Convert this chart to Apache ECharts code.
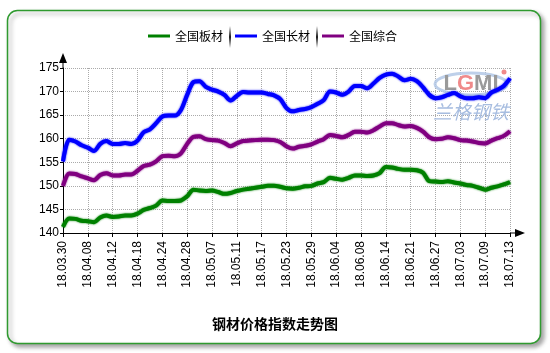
<!DOCTYPE html>
<html>
<head>
<meta charset="utf-8">
<script src="https://cdn.jsdelivr.net/npm/echarts@6/dist/echarts.min.js"></script>
<style>
html,body{margin:0;padding:0;background:#fff;}
#c{width:550px;height:353px;}
</style>
</head>
<body>
<div id="c"></div>
<script>
var categories = ['18.03.30','18.04.02','18.04.03','18.04.04','18.04.08','18.04.09','18.04.10','18.04.11','18.04.12','18.04.13','18.04.16','18.04.17','18.04.18','18.04.19','18.04.20','18.04.23','18.04.24','18.04.25','18.04.26','18.04.27','18.04.28','18.05.02','18.05.03','18.05.04','18.05.07','18.05.08','18.05.09','18.05.10','18.05.11','18.05.14','18.05.15','18.05.16','18.05.17','18.05.18','18.05.21','18.05.22','18.05.23','18.05.24','18.05.25','18.05.28','18.05.29','18.05.30','18.05.31','18.06.01','18.06.04','18.06.05','18.06.06','18.06.07','18.06.08','18.06.11','18.06.12','18.06.13','18.06.14','18.06.15','18.06.19','18.06.20','18.06.21','18.06.22','18.06.25','18.06.26','18.06.27','18.06.28','18.06.29','18.07.02','18.07.03','18.07.04','18.07.05','18.07.06','18.07.09','18.07.10','18.07.11','18.07.12','18.07.13'];

var seriesNames = ['全国板材', '全国长材', '全国综合'];

var plate = [141.3,143.1,143.0,142.6,142.5,142.3,143.3,143.7,143.4,143.5,143.7,143.7,144.1,144.9,145.3,145.8,146.9,146.8,146.8,146.9,147.8,149.2,149.0,148.9,149.0,148.7,148.3,148.5,148.9,149.2,149.4,149.6,149.8,150.0,150.0,149.8,149.5,149.4,149.6,149.9,150.0,150.5,150.8,151.7,151.5,151.3,151.7,152.2,152.2,152.1,152.2,152.7,154.0,153.9,153.6,153.4,153.4,153.3,152.8,151.0,150.9,150.8,151.0,150.7,150.5,150.2,150.0,149.6,149.2,149.6,149.9,150.3,150.8];

var longSteel = [155.2,159.8,159.4,158.6,158.1,157.4,158.9,159.5,158.9,158.9,159.1,158.9,159.6,161.4,162.0,163.3,164.7,164.9,164.9,166.1,169.3,172.0,172.2,171.0,170.4,170.0,169.3,168.1,169.1,169.9,169.8,169.8,169.8,169.5,169.2,168.4,166.5,165.8,166.1,166.3,166.7,167.4,168.2,170.0,169.8,169.3,170.0,171.2,171.2,170.7,171.7,172.9,173.6,173.8,173.2,172.4,172.7,172.2,170.9,169.3,168.6,168.8,169.3,169.7,169.0,168.6,168.6,168.8,168.6,169.8,170.4,171.2,172.8];

var composite = [150.0,152.6,152.5,152.0,151.6,151.2,152.3,152.7,152.2,152.2,152.4,152.4,153.2,154.2,154.5,155.2,156.3,156.4,156.3,156.9,158.9,160.4,160.5,159.9,159.7,159.6,159.1,158.4,159.0,159.5,159.6,159.7,159.8,159.8,159.7,159.3,158.4,157.9,158.3,158.5,158.8,159.4,159.9,160.8,160.6,160.3,160.8,161.5,161.5,161.3,161.8,162.6,163.3,163.3,162.9,162.6,162.7,162.3,161.5,160.3,159.9,160.0,160.3,160.1,159.7,159.6,159.4,159.1,159.0,159.6,160.1,160.6,161.6];

var yMin = 140, yMax = 175, yStep = 5;
var colors = ['#008000', '#0000ff', '#800080'];
var titleText = '钢材价格指数走势图';

var arrowPath = 'path://M4,0 L8,10 L0,10 Z M3.5,10 L4.5,10 L4.5,15 L3.5,15 Z';
var font = 'Liberation Sans, Arial, sans-serif';
var cjk = '"Noto Sans CJK SC", sans-serif';

var chart = echarts.init(document.getElementById('c'), null, {renderer: 'canvas'});

function lineSeries(name, data, color) {
  return {
    name: name, type: 'line', data: data, smooth: 0.3, symbol: 'none',
    lineStyle: {width: 4, color: color, shadowColor: color, shadowBlur: 2},
    itemStyle: {color: color}, z: 3
  };
}

function sepFill() {
  return new echarts.graphic.LinearGradient(0, 0, 0, 1, [
    {offset: 0, color: 'rgba(0,0,0,0)'}, {offset: 0.5, color: 'rgba(0,0,0,0.9)'}, {offset: 1, color: 'rgba(0,0,0,0)'}]);
}

var option = {
  backgroundColor: '#fff',
  animation: false,
  color: colors,
  title: {
    text: titleText, left: 'center', top: 312,
    textStyle: {fontFamily: cjk, fontSize: 14, fontWeight: 'bold', color: '#000'}
  },
  legend: {
    data: seriesNames, left: 148, top: 30, padding: 0, icon: 'rect',
    itemWidth: 22, itemHeight: 3, itemGap: 12,
    textStyle: {fontFamily: cjk, fontSize: 12, color: '#000'}
  },
  grid: {left: 63, right: 40, top: 68, bottom: 120},
  xAxis: {
    type: 'category', data: categories, boundaryGap: false,
    axisLine: {show: true, symbol: ['none', arrowPath], symbolSize: [8, 15], symbolOffset: [0, 7.5],
      lineStyle: {color: '#000', width: 1}},
    axisTick: {show: true, interval: 3, length: 4, lineStyle: {color: '#000'}},
    axisLabel: {interval: 3, rotate: 90, margin: 8, fontFamily: font, fontSize: 12, color: '#000'},
    splitLine: {show: true, interval: 3, lineStyle: {type: 'dotted', color: '#aaa', width: 1}}
  },
  yAxis: {
    type: 'value', min: yMin, max: yMax, interval: yStep,
    axisLine: {show: true, symbol: ['none', arrowPath], symbolSize: [8, 15], symbolOffset: [0, 7.5],
      lineStyle: {color: '#000', width: 1}},
    axisTick: {show: true, length: 3, lineStyle: {color: '#000'}},
    axisLabel: {margin: 4, fontFamily: font, fontSize: 12, color: '#000'},
    splitLine: {show: true, lineStyle: {type: 'dotted', color: '#aaa', width: 1}}
  },
  graphic: [
    {type: 'rect', z: -10, silent: true,
      shape: {x: 7.5, y: 10.5, width: 533, height: 333, r: 10},
      style: {fill: '#fff', stroke: '#2f9a2f', lineWidth: 1.5,
        shadowColor: 'rgba(0,0,0,0.35)', shadowBlur: 4, shadowOffsetX: 3, shadowOffsetY: 3}},
    {type: 'rect', z: 5, silent: true, shape: {x: 229, y: 26, width: 2, height: 22}, style: {fill: sepFill()}},
    {type: 'rect', z: 5, silent: true, shape: {x: 316, y: 26, width: 2, height: 22}, style: {fill: sepFill()}},
    {type: 'ellipse', z: 1, silent: true, shape: {cx: 471, cy: 84, rx: 36, ry: 11},
      style: {fill: 'none', stroke: '#b3c8e6', lineWidth: 3, opacity: 0.85}},
    {type: 'text', z: 1, silent: true, x: 471, y: 84,
      style: {text: '{a|L}{b|G}{a|MI}', align: 'center', verticalAlign: 'middle',
        rich: {
          a: {fontFamily: font, fontSize: 22, fontWeight: 'bold', fill: '#9a9a9a'},
          b: {fontFamily: font, fontSize: 22, fontWeight: 'bold', fill: '#f08a8a'}
        }}},
    {type: 'circle', z: 1, silent: true, shape: {cx: 504, cy: 72, r: 2.5},
      style: {fill: '#f08a8a'}},
    {type: 'text', z: 1, silent: true, x: 471, y: 112,
      style: {text: '兰格钢铁', align: 'center', verticalAlign: 'middle',
        fontFamily: cjk, fontSize: 19, fontStyle: 'italic', fill: '#a7bde0'}}
  ],
  series: [
    lineSeries(seriesNames[0], plate, colors[0]),
    lineSeries(seriesNames[1], longSteel, colors[1]),
    lineSeries(seriesNames[2], composite, colors[2])
  ]
};
chart.setOption(option);
</script>
</body>
</html>
